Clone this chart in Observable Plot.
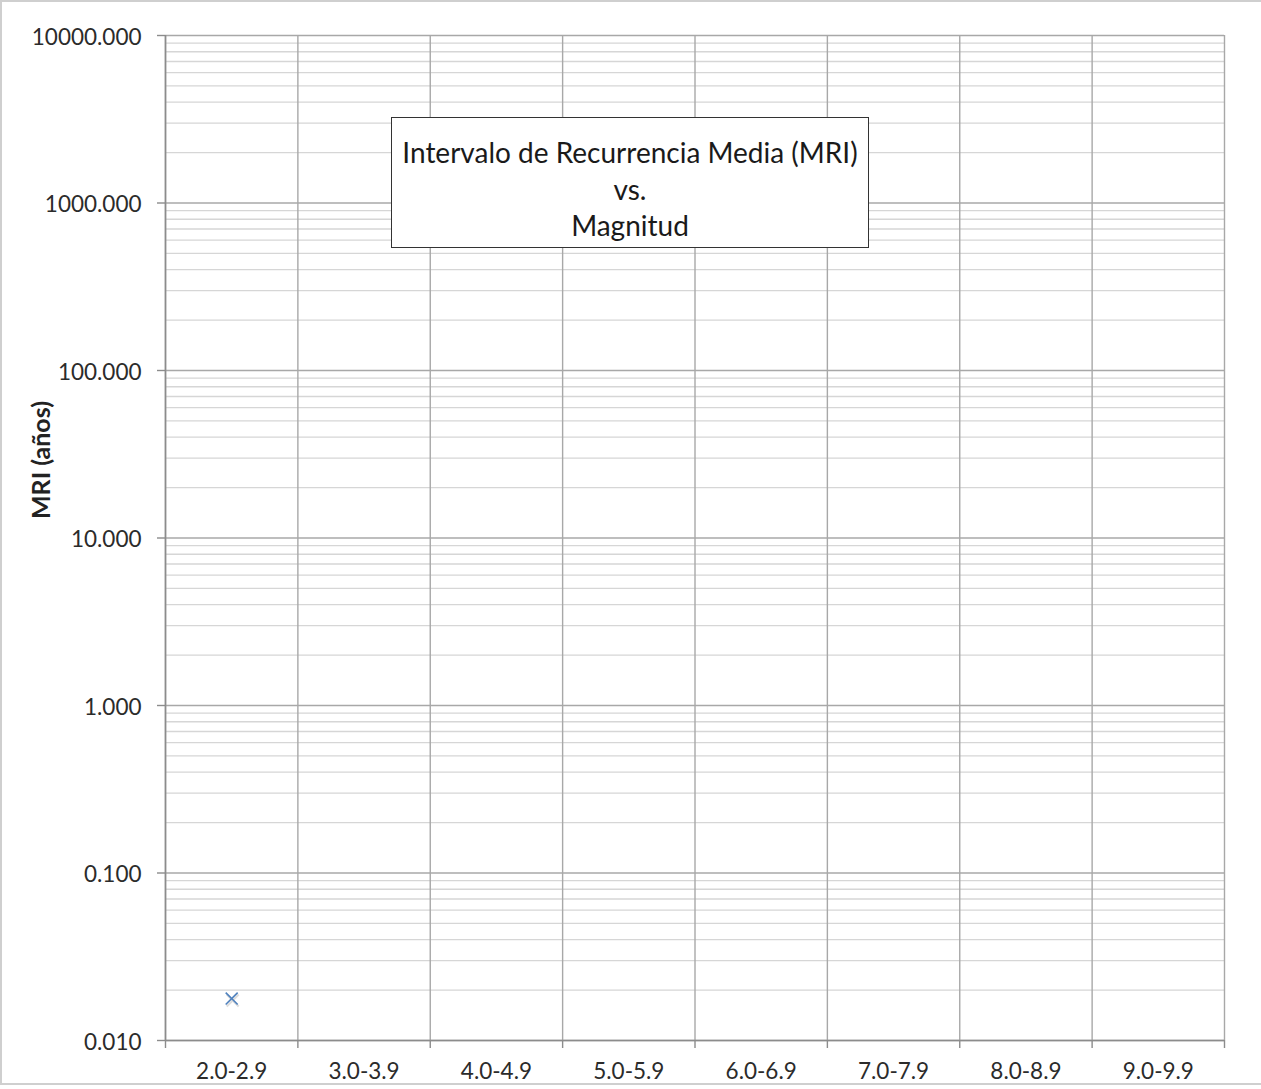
<!DOCTYPE html>
<html>
<head>
<meta charset="utf-8">
<script src="https://cdn.jsdelivr.net/npm/d3@7"></script>
<script src="https://cdn.jsdelivr.net/npm/@observablehq/plot@0.6"></script>
<style>
  html, body { margin: 0; padding: 0; background: #fff; }
  #wrap { position: relative; width: 1261px; height: 1089px; overflow: hidden; font-family: Lato, sans-serif; }
  #border { position: absolute; left: 0; top: 0; width: 1270px; height: 1085px; border: 2px solid #cfcfcf; box-sizing: border-box; pointer-events: none; }
  #ylabel { position: absolute; left: 40px; top: 460px; transform: translate(-50%, -50%) rotate(-90deg); font: bold 25px Lato, sans-serif; color: #222; white-space: nowrap; }
  #title { position: absolute; left: 391px; top: 117px; width: 478px; height: 131px; box-sizing: border-box; border: 1.5px solid #333; background: #fff; text-align: center; font: 28px Lato, sans-serif; color: #1a1a1a; line-height: 36.5px; padding-top: 16px; }
</style>
</head>
<body>
<div id="wrap">
  <div id="chart"></div>
  <div id="title">Intervalo de Recurrencia Media (MRI)<br>vs.<br>Magnitud</div>
  <div id="ylabel">MRI (años)</div>
  <div id="border"></div>
</div>
<script>
const categories = ["2.0-2.9", "3.0-3.9", "4.0-4.9", "5.0-5.9", "6.0-6.9", "7.0-7.9", "8.0-8.9", "9.0-9.9"];
const mriValues = [0.0178, null, null, null, null, null, null, null];
const yTicks = [0.01, 0.1, 1, 10, 100, 1000, 10000];
const minorMultipliers = [2, 3, 4, 5, 6, 7, 8, 9];

const data = categories.map((cat, i) => ({ i, cat, mri: mriValues[i] })).filter(d => d.mri != null);
const minorTicks = yTicks.slice(0, -1).flatMap(d => minorMultipliers.map(k => d * k));
const boundaries = d3.range(categories.length + 1);
const centers = categories.map((c, i) => i + 0.5);

const chart = Plot.plot({
  width: 1261,
  height: 1089,
  marginLeft: 165,
  marginRight: 37,
  marginTop: 35,
  marginBottom: 49,
  style: { fontFamily: "Lato, sans-serif", background: "transparent" },
  x: { type: "linear", domain: [0, categories.length], axis: null },
  y: { type: "log", domain: [0.01, 10000], axis: null },
  marks: [
    Plot.ruleY(minorTicks, { stroke: "#d6d6d6", strokeWidth: 1.4 }),
    Plot.ruleY(yTicks, { stroke: "#a8a8a8", strokeWidth: 1.4 }),
    Plot.ruleX(boundaries, { stroke: "#a8a8a8", strokeWidth: 1.4 }),
    Plot.axisY({ ticks: yTicks, tickSize: 8, tickFormat: () => "", stroke: "#8c8c8c", strokeWidth: 1.4, label: null }),
    Plot.axisY({ ticks: yTicks, tickSize: 0, tickPadding: 24, tickFormat: d3.format(".3f"), fontSize: 22.5, fill: "#2b2b2b", dy: 2, label: null }),
    Plot.axisX({ ticks: boundaries, tickSize: 8, tickFormat: () => "", stroke: "#8c8c8c", strokeWidth: 1.4, label: null }),
    Plot.axisX({ ticks: centers, tickSize: 0, tickPadding: 23, tickFormat: v => categories[Math.floor(v)], fontSize: 22.5, fill: "#2b2b2b", label: null }),
    Plot.ruleY([0.01], { stroke: "#8c8c8c", strokeWidth: 1.6 }),
    Plot.ruleX([0], { stroke: "#8c8c8c", strokeWidth: 1.6 }),
    Plot.dot(data, { x: d => d.i + 0.5, y: "mri", symbol: "times", r: 5.5, stroke: "#bbbbbb", strokeOpacity: 0.5, strokeWidth: 2, dx: 1, dy: 2 }),
    Plot.dot(data, { x: d => d.i + 0.5, y: "mri", symbol: "times", r: 5.5, stroke: "#4f81bd", strokeWidth: 1.6 })
  ]
});
document.getElementById("chart").appendChild(chart);
</script>
</body>
</html>
